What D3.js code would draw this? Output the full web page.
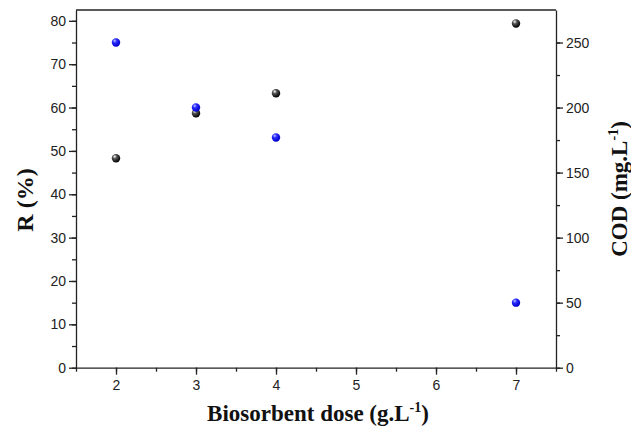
<!DOCTYPE html>
<html><head><meta charset="utf-8">
<script src="https://cdn.jsdelivr.net/npm/d3@7"></script>
<style>body{margin:0;background:#fff}svg{display:block}</style>
</head><body>
<svg id="c" width="631" height="431"></svg>
<script>
const doses = [2, 3, 4, 7];
const removal = [48.3, 58.7, 63.3, 79.4];   // R (%) - black
const cod = [250, 200, 177, 50];             // COD (mg.L-1) - blue
const xTicks = [2, 3, 4, 5, 6, 7];
const yLeftTicks = [0, 10, 20, 30, 40, 50, 60, 70, 80];
const yRightTicks = [0, 50, 100, 150, 200, 250];

const svg = d3.select('#c');
const L = 76, R = 556, T = 10, B = 367.7;
const x = d3.scaleLinear().domain([1.5, 7.5]).range([L, R]);
const yL = d3.scaleLinear().domain([0, 82.5]).range([B, T]);
const yR = d3.scaleLinear().domain([0, 275]).range([B, T]);

const defs = svg.append('defs');
function grad(id, c0, c1, c2) {
  const g = defs.append('radialGradient').attr('id', id).attr('cx', '35%').attr('cy', '30%').attr('r', '70%');
  g.append('stop').attr('offset', '0%').attr('stop-color', c0);
  g.append('stop').attr('offset', '35%').attr('stop-color', c1);
  g.append('stop').attr('offset', '100%').attr('stop-color', c2);
}
grad('gk', '#ffffff', '#555555', '#000000');
grad('gb', '#bfc8ff', '#2a2aff', '#0000c8');

const axStyle = g => {
  g.selectAll('path,line').attr('stroke', '#222').attr('stroke-width', 1.3);
  g.selectAll('text').attr('font-family', 'Liberation Sans, Arial, sans-serif').attr('font-size', 14).attr('fill', '#222');
};

// minor ticks
svg.append('g').attr('transform', `translate(0,${B})`)
  .call(d3.axisBottom(x).tickValues(d3.range(1.5, 7.51, 0.5)).tickSize(4).tickFormat(''))
  .call(axStyle).select('.domain').remove();
svg.append('g').attr('transform', `translate(${L},0)`)
  .call(d3.axisLeft(yL).tickValues(d3.range(0, 81, 5)).tickSize(4).tickFormat(''))
  .call(axStyle).select('.domain').remove();
svg.append('g').attr('transform', `translate(${R},0)`)
  .call(d3.axisRight(yR).tickValues(d3.range(0, 251, 25)).tickSize(4).tickFormat(''))
  .call(axStyle).select('.domain').remove();

// major axes
svg.append('g').attr('transform', `translate(0,${B})`)
  .call(d3.axisBottom(x).tickValues(xTicks).tickSize(7).tickSizeOuter(0).tickPadding(5).tickFormat(d3.format('d')))
  .call(axStyle);
svg.append('g').attr('transform', `translate(${L},0)`)
  .call(d3.axisLeft(yL).tickValues(yLeftTicks).tickSize(7).tickSizeOuter(0).tickPadding(3).tickFormat(d3.format('d')))
  .call(axStyle);
svg.append('g').attr('transform', `translate(${R},0)`)
  .call(d3.axisRight(yR).tickValues(yRightTicks).tickSize(7).tickSizeOuter(0).tickPadding(3).tickFormat(d3.format('d')))
  .call(axStyle);
// top border
svg.append('line').attr('x1', L).attr('x2', R).attr('y1', T).attr('y2', T).attr('stroke', '#222').attr('stroke-width', 1.3);

// points
svg.append('g').selectAll('circle').data(doses).join('circle')
  .attr('cx', (d) => x(d)).attr('cy', (d, i) => yL(removal[i])).attr('r', 4.2).attr('fill', 'url(#gk)');
svg.append('g').selectAll('circle').data(doses).join('circle')
  .attr('cx', (d) => x(d)).attr('cy', (d, i) => yR(cod[i])).attr('r', 4.2).attr('fill', 'url(#gb)');

// titles
const tf = 'Liberation Serif, Times New Roman, serif';
const xt = svg.append('text').attr('x', 318).attr('y', 421).attr('text-anchor', 'middle')
  .attr('font-family', tf).attr('font-weight', 'bold').attr('font-size', 23).attr('fill', '#111');
xt.append('tspan').text('Biosorbent dose (g.L');
xt.append('tspan').attr('dy', -9).attr('font-size', 14).text('-1');
xt.append('tspan').attr('dy', 9).text(')');

svg.append('text').attr('transform', 'translate(33,200) rotate(-90)').attr('text-anchor', 'middle')
  .attr('font-family', tf).attr('font-weight', 'bold').attr('font-size', 24).attr('fill', '#111').text('R (%)');

const rt = svg.append('text').attr('transform', 'translate(627,189) rotate(-90)').attr('text-anchor', 'middle')
  .attr('font-family', tf).attr('font-weight', 'bold').attr('font-size', 23).attr('fill', '#111');
rt.append('tspan').text('COD (mg.L');
rt.append('tspan').attr('dy', -9).attr('font-size', 14).text('-1');
rt.append('tspan').attr('dy', 9).text(')');
</script>
</body></html>
